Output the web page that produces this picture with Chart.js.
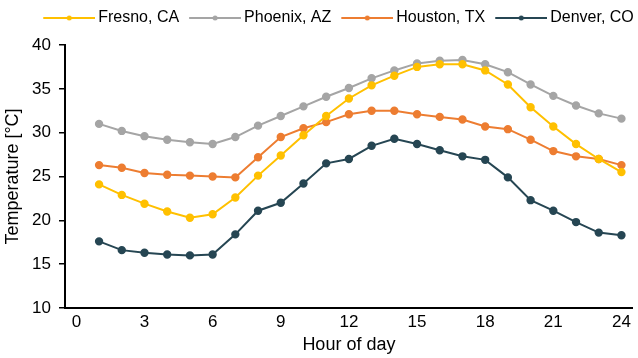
<!DOCTYPE html>
<html>
<head>
<meta charset="utf-8">
<script src="https://cdn.jsdelivr.net/npm/chart.js@4"></script>
<style>
  html, body { margin: 0; padding: 0; background: #fff; }
  #wrap { width: 638px; height: 358px; }
</style>
</head>
<body>
<div id="wrap"><canvas id="chart" width="638" height="358"></canvas></div>
<script>
// hours of the day (x values)
const hours = [1, 2, 3, 4, 5, 6, 7, 8, 9, 10, 11, 12, 13, 14, 15, 16, 17, 18, 19, 20, 21, 22, 23, 24];
const xTicks = [0, 3, 6, 9, 12, 15, 18, 21, 24];

const fresno  = [24.1, 22.9, 21.9, 21.0, 20.3, 20.7, 22.6, 25.1, 27.4, 29.7, 31.9, 33.9, 35.4, 36.5, 37.5, 37.8, 37.8, 37.1, 35.5, 32.9, 30.7, 28.7, 27.0, 25.5];
const phoenix = [31.0, 30.2, 29.6, 29.2, 28.9, 28.7, 29.5, 30.8, 31.9, 33.0, 34.1, 35.1, 36.2, 37.1, 37.9, 38.2, 38.3, 37.8, 36.9, 35.5, 34.2, 33.1, 32.2, 31.6];
const houston = [26.3, 26.0, 25.4, 25.2, 25.1, 25.0, 24.9, 27.2, 29.5, 30.5, 31.2, 32.1, 32.5, 32.5, 32.1, 31.8, 31.5, 30.7, 30.4, 29.2, 27.9, 27.3, 27.0, 26.3];
const denver  = [17.6, 16.6, 16.3, 16.1, 16.0, 16.1, 18.4, 21.1, 22.0, 24.2, 26.5, 27.0, 28.5, 29.3, 28.7, 28.0, 27.3, 26.9, 24.9, 22.3, 21.1, 19.8, 18.6, 18.3];

const seriesNames = ['Fresno, CA', 'Phoenix, AZ', 'Houston, TX', 'Denver, CO'];
const seriesData = [fresno, phoenix, houston, denver];
const colors = ['#FFC000', '#A5A5A5', '#ED7D31', '#264653'];

Chart.defaults.font.family = '"Liberation Sans", Arial, sans-serif';
Chart.defaults.color = '#000';

// line-with-dot icon for the legend; 5px of it hangs left of the box
// so the text sits close to the line like in the original
function legendIcon(color) {
    const c = document.createElement('canvas');
    c.width = 57;
    c.height = 8;
    const g = c.getContext('2d');
    g.strokeStyle = color;
    g.lineWidth = 2;
    g.beginPath();
    g.moveTo(5, 4);
    g.lineTo(57, 4);
    g.stroke();
    g.fillStyle = color;
    g.beginPath();
    g.arc(31, 4, 2.5, 0, Math.PI * 2);
    g.fill();
    return c;
}

// push the plot down a bit below the legend, and the legend a bit right
const legendMargin = {
    id: 'legendMargin',
    beforeInit(chart) {
        const fit = chart.legend.fit;
        chart.legend.fit = function () {
            fit.bind(chart.legend)();
            this.height += 9;
        };
    },
    afterLayout(chart) {
        chart.legend.left += 21;
        chart.legend.right += 21;
    }
};

const datasets = seriesNames.map((name, i) => ({
    label: name,
    data: hours.map((h, j) => ({ x: h, y: seriesData[i][j] })),
    borderColor: colors[i],
    backgroundColor: colors[i],
    borderWidth: 2,
    pointRadius: 3.2,
    pointHoverRadius: 3.2,
    pointStyle: 'circle',
    legendIcon: legendIcon(colors[i]),
    tension: 0
}));

new Chart(document.getElementById('chart'), {
    type: 'line',
    data: { datasets: datasets },
    plugins: [legendMargin],
    options: {
        responsive: false,
        animation: false,
        layout: { padding: { top: 0, right: 5, bottom: 0, left: 2 } },
        plugins: {
            tooltip: { enabled: false },
            legend: {
                position: 'top',
                labels: {
                    usePointStyle: true,
                    pointStyleWidth: 47,
                    boxHeight: 8,
                    padding: 10,
                    font: { size: 16 },
                    generateLabels: chart => chart.data.datasets.map((d, i) => ({
                        text: d.label,
                        pointStyle: d.legendIcon,
                        fillStyle: d.borderColor,
                        strokeStyle: d.borderColor,
                        lineWidth: 0,
                        datasetIndex: i
                    }))
                }
            }
        },
        scales: {
            x: {
                type: 'linear',
                min: -0.5,
                max: 24.5,
                afterBuildTicks: scale => { scale.ticks = xTicks.map(v => ({ value: v })); },
                grid: { display: false, drawTicks: false },
                border: { display: true, color: '#000', width: 2 },
                ticks: { font: { size: 17 }, padding: 4, autoSkip: false, maxRotation: 0 },
                title: { display: true, text: 'Hour of day', font: { size: 18 }, padding: { top: 0, bottom: 2 } },
                afterFit: scale => { scale.height = 50; }
            },
            y: {
                min: 10,
                max: 40,
                ticks: { stepSize: 5, font: { size: 17 }, padding: 8 },
                grid: { drawOnChartArea: false, drawTicks: true, tickLength: 6, color: '#000', lineWidth: 1.5 },
                border: { display: true, color: '#000', width: 2 },
                title: { display: true, text: 'Temperature [°C]', font: { size: 18 }, padding: { top: 0, bottom: 4 } },
                afterFit: scale => { scale.width = 63; }
            }
        }
    }
});
</script>
</body>
</html>
